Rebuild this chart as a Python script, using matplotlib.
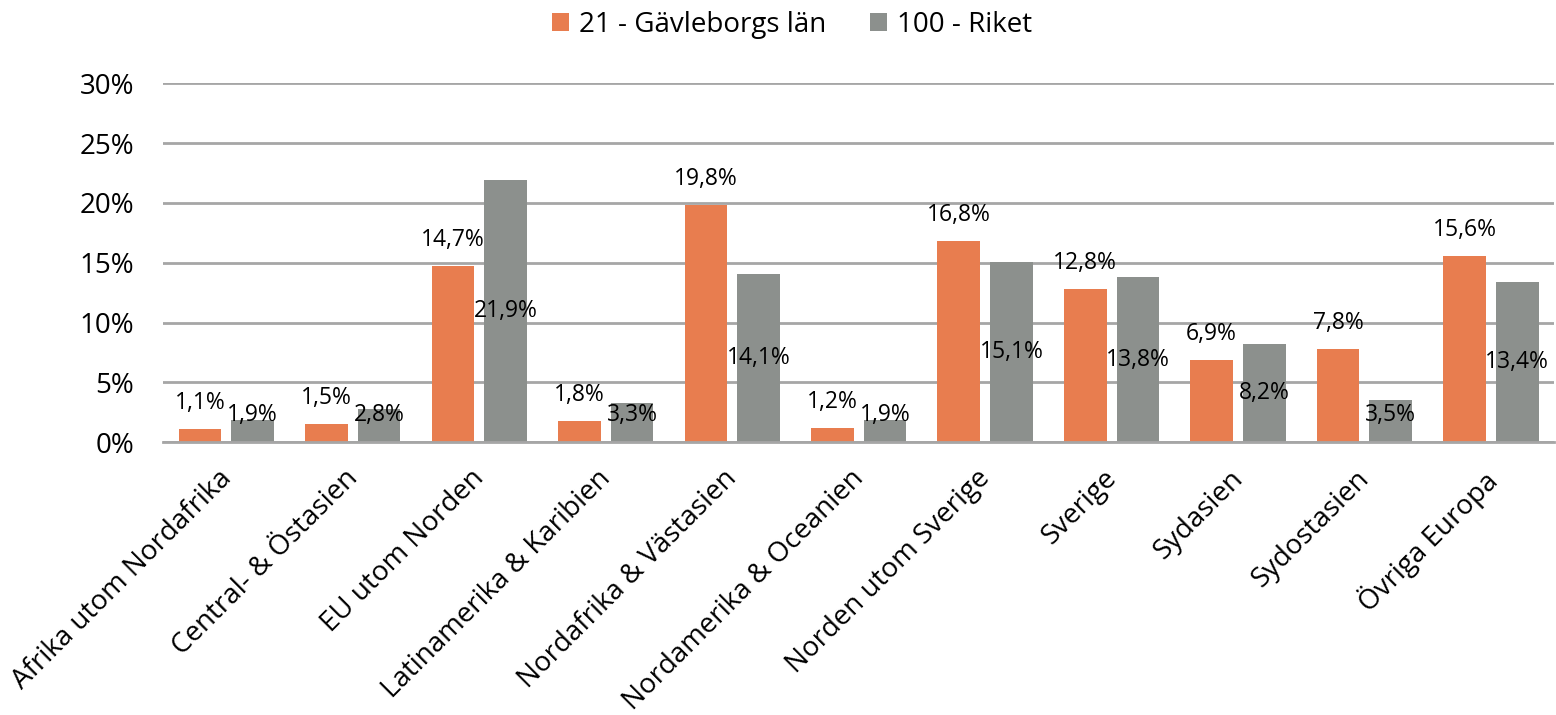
import matplotlib
matplotlib.use('Agg')
import matplotlib.pyplot as plt
import matplotlib.transforms as mtransforms
import numpy as np

categories = ['Afrika utom Nordafrika', 'Central- & Östasien', 'EU utom Norden',
              'Latinamerika & Karibien', 'Nordafrika & Västasien', 'Nordamerika & Oceanien',
              'Norden utom Sverige', 'Sverige', 'Sydasien', 'Sydostasien', 'Övriga Europa']
gavleborg = [1.1, 1.5, 14.7, 1.8, 19.8, 1.2, 16.8, 12.8, 6.9, 7.8, 15.6]
riket = [1.9, 2.8, 21.9, 3.3, 14.1, 1.9, 15.1, 13.8, 8.2, 3.5, 13.4]
yticks = [0, 5, 10, 15, 20, 25, 30]

orange = '#E87D4F'
grey = '#8C908D'

plt.rcParams['font.family'] = ['Open Sans', 'DejaVu Sans']

fig = plt.figure(figsize=(15.56, 7.15), dpi=100)
ax = fig.add_axes([0.1048, 0.3814, 0.894, 0.5021])

x = np.arange(len(categories))
w = 0.337
off = 0.208
b1 = ax.bar(x - off, gavleborg, w, color=orange, label='21 - Gävleborgs län', zorder=3)
b2 = ax.bar(x + off, riket, w, color=grey, label='100 - Riket', zorder=3)

def fmt(v):
    return f'{v:.1f}%'.replace('.', ',')

for xi, v in zip(x, gavleborg):
    ax.annotate(fmt(v), (xi - off, v), xytext=(0, 18.7), textcoords='offset points',
                ha='center', va='center', fontsize=16.5, color='black', zorder=4)
for xi, v in zip(x, riket):
    ax.text(xi + off, max(v / 2, 2.25), fmt(v), ha='center', va='center',
            fontsize=16.5, color='black', zorder=4)

ax.set_xlim(-0.5, len(categories) - 0.5)
ax.set_ylim(0, 30)
ax.set_yticks(yticks)
ax.set_yticklabels([f'{t}%' for t in yticks], fontsize=20)
ax.tick_params(axis='y', length=0, pad=21)
ax.tick_params(axis='x', length=0, pad=16)
ax.set_xticks(x)
ax.set_xticklabels(categories, rotation=45, ha='right', va='top', rotation_mode='anchor',
                   fontsize=20)
shift = mtransforms.ScaledTranslation(-0.09, 0, fig.dpi_scale_trans)
for lab in ax.get_xticklabels():
    lab.set_transform(lab.get_transform() + shift)

ax.grid(axis='y', color='#A6A6A6', linewidth=2, zorder=0)
for s in ['top', 'right', 'left']:
    ax.spines[s].set_visible(False)
ax.spines['bottom'].set_color('#A6A6A6')
ax.spines['bottom'].set_linewidth(2)
ax.spines['bottom'].set_zorder(3.5)

fig.legend(handles=[b1, b2], loc='center', bbox_to_anchor=(792 / 1556, 1 - 25 / 715),
           ncol=2, frameon=False, fontsize=20, handlelength=0.62, handleheight=0.62,
           handletextpad=0.36, columnspacing=1.55)

fig.savefig('out.png', dpi=100)
